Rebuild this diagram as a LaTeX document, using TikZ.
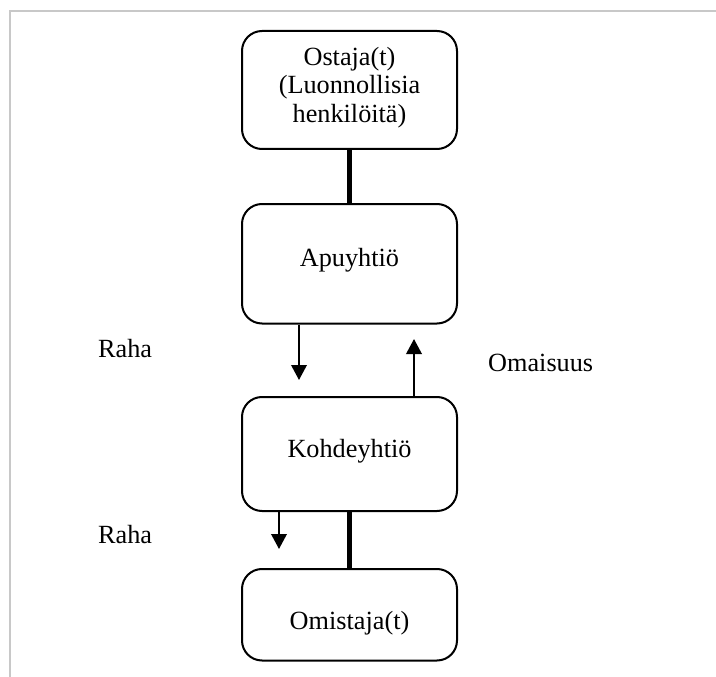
\documentclass[tikz,border=0pt]{standalone}
\usepackage{fontspec}
\setmainfont{Liberation Serif}
\usetikzlibrary{arrows.meta}
\definecolor{framegray}{RGB}{200,200,200}
\tikzset{
  box/.style={draw=black, line width=2pt, rounded corners=20pt, rectangle, minimum width=215pt, inner sep=0pt},
  txt/.style={font=\fontsize{26.25}{28.4}\selectfont, inner sep=0pt, align=center},
  heavy/.style={draw=black, line width=5pt},
  arr/.style={draw=black, line width=2pt, -{Triangle[width=15.5pt,length=15pt]}},
  framel/.style={draw=framegray, line width=2pt}
}
\begin{document}
\begin{tikzpicture}[x=1pt,y=-1pt]
\useasboundingbox (0,0) rectangle (716,677);
% frame
\draw[framel] (10,677) -- (10,11) -- (716,11);
% boxes
\node[box, minimum height=118pt] (b1) at (349.5,90) {};
\node[box, minimum height=119.5pt] (b2) at (349.5,263.75) {};
\node[box, minimum height=114pt] (b3) at (349.5,454) {};
\node[box, minimum height=91.5pt] (b4) at (349.5,614.75) {};
% box texts
\node[txt, anchor=north] (t1) at (349.5,47) {Ostaja(t)\\(Luonnollisia\\henkilöitä)};
\node[txt, anchor=base] (t2) at (349.5,266) {Apuyhtiö};
\node[txt, anchor=base] (t3) at (349.5,457) {Kohdeyhtiö};
\node[txt, anchor=base] (t4) at (349.5,629) {Omistaja(t)};
% heavy links
\draw[heavy] (b1.south) -- (b2.north);
\draw[heavy] (b3.south) -- (b4.north);
% arrows
\coordinate (p1) at (299,380);
\coordinate (p2) at (414,339);
\coordinate (p3) at (279,549);
\draw[arr] (b2.south -| p1) -- (p1);
\draw[arr] (b3.north -| p2) -- (p2);
\draw[arr] (b3.south -| p3) -- (p3);
% labels
\node[txt, anchor=base west] (l1) at (98,357) {Raha};
\node[txt, anchor=base west] (l2) at (488,371) {Omaisuus};
\node[txt, anchor=base west] (l3) at (98,543) {Raha};
\end{tikzpicture}
\end{document}
